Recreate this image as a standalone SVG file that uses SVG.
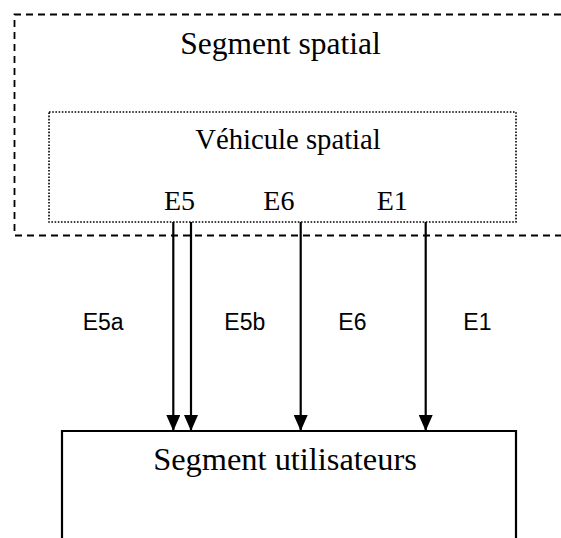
<svg xmlns="http://www.w3.org/2000/svg" width="561" height="538" viewBox="0 0 561 538">
<style>
.serif{font-family:"Liberation Serif","Times New Roman",serif;fill:#000}
.sans{font-family:"Liberation Sans",Arial,sans-serif;fill:#000;font-size:23px}
.conn{stroke:#000;stroke-width:2.2;fill:none}
</style>
<defs>
<marker id="arr" markerUnits="userSpaceOnUse" viewBox="0 0 16 14" markerWidth="16" markerHeight="14" refX="16" refY="7" orient="auto">
<path d="M0,0 L16,7 L0,14 z" fill="#000"/>
</marker>
</defs>
<rect width="561" height="538" fill="#fff"/>
<g id="segment-spatial">
<path d="M561,14.5 H14.5 V235.5 H561" fill="none" stroke="#000" stroke-width="1.8" stroke-dasharray="7 5"/>
<text class="serif" x="280.5" y="54" font-size="31.5" text-anchor="middle">Segment spatial</text>
</g>
<g id="vehicule-spatial">
<rect x="49" y="112" width="467" height="110" fill="none" stroke="#000" stroke-width="1.6" stroke-dasharray="1.6 1.6"/>
<text class="serif" x="288" y="149" font-size="28.7" text-anchor="middle">Véhicule spatial</text>
<text class="serif" x="164" y="210" font-size="28">E5</text>
<text class="serif" x="263.3" y="210" font-size="28">E6</text>
<text class="serif" x="376.7" y="210" font-size="28">E1</text>
</g>
<g id="segment-utilisateurs">
<path d="M62,538 V431 H516 V538" fill="none" stroke="#000" stroke-width="2.2"/>
<text class="serif" x="285" y="470" font-size="32.4" text-anchor="middle">Segment utilisateurs</text>
</g>
<g id="connectors">
<line class="conn" x1="173.3" y1="222" x2="173.3" y2="431" marker-end="url(#arr)"/>
<line class="conn" x1="191" y1="222" x2="191" y2="431" marker-end="url(#arr)"/>
<line class="conn" x1="300.7" y1="222" x2="300.7" y2="431" marker-end="url(#arr)"/>
<line class="conn" x1="425.7" y1="222" x2="425.7" y2="431" marker-end="url(#arr)"/>
<text class="sans" x="82.7" y="330">E5a</text>
<text class="sans" x="224.3" y="330">E5b</text>
<text class="sans" x="338.3" y="330">E6</text>
<text class="sans" x="463.3" y="330">E1</text>
</g>
</svg>
